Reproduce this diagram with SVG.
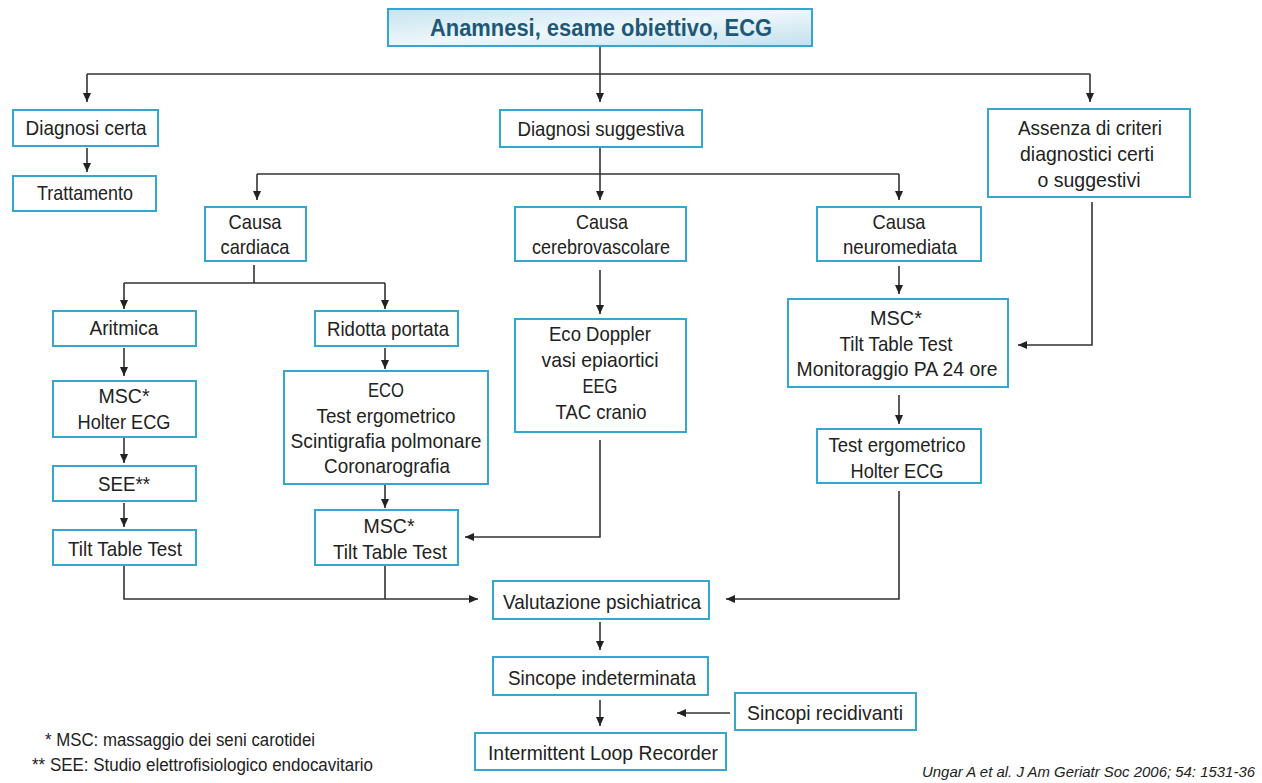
<svg xmlns="http://www.w3.org/2000/svg" width="1262" height="783" viewBox="0 0 1262 783">
<defs>
<linearGradient id="tg" x1="0" y1="0" x2="1" y2="1">
<stop offset="0" stop-color="#c7e3ef"/>
<stop offset="0.5" stop-color="#eef7fb"/>
<stop offset="1" stop-color="#c2e0ed"/>
</linearGradient>
<marker id="ah" markerWidth="10" markerHeight="10" refX="9" refY="5" orient="auto" markerUnits="userSpaceOnUse">
<path d="M0,1 L9,5 L0,9 Z" fill="#222"/>
</marker>
<style>
.b{fill:#fff;stroke:#35a6d0;stroke-width:2}
.t{font-family:"Liberation Sans",Arial,sans-serif;font-size:21px;fill:#222;text-anchor:middle}
.c{fill:none;stroke:#333;stroke-width:1.6}
.a{marker-end:url(#ah)}
.f{font-family:"Liberation Sans",Arial,sans-serif;font-size:17.5px;fill:#222}
</style>
</defs>
<rect width="1262" height="783" fill="#fff"/>
<g id="connectors">
<path class="c" d="M600,46 V74 M87,74 H1090"/>
<path class="c a" d="M87,74 V102"/>
<path class="c a" d="M600,74 V102"/>
<path class="c a" d="M1090,74 V102"/>
<path class="c a" d="M87,148 V172"/>
<path class="c" d="M600,147 V174 M257,174 H899"/>
<path class="c a" d="M257,174 V200"/>
<path class="c a" d="M600,174 V200"/>
<path class="c a" d="M899,174 V200"/>
<path class="c" d="M254,265 V283 M124,283 H385"/>
<path class="c a" d="M124,283 V309"/>
<path class="c a" d="M385,283 V309"/>
<path class="c a" d="M600,270 V314"/>
<path class="c a" d="M899,266 V294"/>
<path class="c a" d="M1092,202 V345 H1018"/>
<path class="c a" d="M124,348 V376"/>
<path class="c a" d="M124,438 V463"/>
<path class="c a" d="M124,503 V527"/>
<path class="c a" d="M385,348 V369"/>
<path class="c a" d="M385,485 V508"/>
<path class="c a" d="M600,440 V537 H465"/>
<path class="c a" d="M899,395 V424"/>
<path class="c a" d="M124,566 V599 H478"/>
<path class="c" d="M385,566 V599"/>
<path class="c a" d="M899,491 V599 H726"/>
<path class="c a" d="M600,622 V650"/>
<path class="c a" d="M600,700 V726"/>
<path class="c a" d="M730,713 H677"/>
</g>
<g id="n-title">
<rect x="388" y="9" width="424" height="37" fill="url(#tg)" stroke="#35a6d0" stroke-width="2"/>
<text x="601" y="36" class="t" style="font-weight:bold;font-size:23px;fill:#1d5878" textLength="342" lengthAdjust="spacingAndGlyphs">Anamnesi, esame obiettivo, ECG</text>
</g>
<g id="n-diagnosi-certa"><rect class="b" x="13" y="110" width="145" height="36"/><text class="t" x="86" y="135" textLength="121" lengthAdjust="spacingAndGlyphs">Diagnosi certa</text></g>
<g id="n-trattamento"><rect class="b" x="13" y="176" width="143" height="35"/><text class="t" x="85" y="200" textLength="96" lengthAdjust="spacingAndGlyphs">Trattamento</text></g>
<g id="n-diagnosi-suggestiva"><rect class="b" x="500" y="110" width="202" height="37"/><text class="t" x="601" y="136" textLength="167" lengthAdjust="spacingAndGlyphs">Diagnosi suggestiva</text></g>
<g id="n-assenza"><rect class="b" x="988" y="109" width="202" height="88"/><text class="t" x="1090" y="135" textLength="144" lengthAdjust="spacingAndGlyphs">Assenza di criteri</text><text class="t" x="1087" y="161" textLength="134" lengthAdjust="spacingAndGlyphs">diagnostici certi</text><text class="t" x="1089" y="187" textLength="103" lengthAdjust="spacingAndGlyphs">o suggestivi</text></g>
<g id="n-cardiaca"><rect class="b" x="205" y="207" width="101" height="54"/><text class="t" x="255" y="229" textLength="53" lengthAdjust="spacingAndGlyphs">Causa</text><text class="t" x="255" y="254" textLength="69" lengthAdjust="spacingAndGlyphs">cardiaca</text></g>
<g id="n-cerebro"><rect class="b" x="515" y="207" width="171" height="54"/><text class="t" x="602" y="229" textLength="52" lengthAdjust="spacingAndGlyphs">Causa</text><text class="t" x="601" y="254" textLength="138" lengthAdjust="spacingAndGlyphs">cerebrovascolare</text></g>
<g id="n-neuro"><rect class="b" x="817" y="207" width="164" height="54"/><text class="t" x="899" y="229" textLength="53" lengthAdjust="spacingAndGlyphs">Causa</text><text class="t" x="900" y="254" textLength="114" lengthAdjust="spacingAndGlyphs">neuromediata</text></g>
<g id="n-aritmica"><rect class="b" x="53" y="311" width="143" height="35"/><text class="t" x="124" y="335" textLength="69" lengthAdjust="spacingAndGlyphs">Aritmica</text></g>
<g id="n-msc-holter"><rect class="b" x="53" y="381" width="143" height="56"/><text class="t" x="124" y="403" textLength="51" lengthAdjust="spacingAndGlyphs">MSC*</text><text class="t" x="124" y="429" textLength="93" lengthAdjust="spacingAndGlyphs">Holter ECG</text></g>
<g id="n-see"><rect class="b" x="53" y="466" width="143" height="35"/><text class="t" x="124" y="491" textLength="52" lengthAdjust="spacingAndGlyphs">SEE**</text></g>
<g id="n-tilt1"><rect class="b" x="53" y="530" width="143" height="35"/><text class="t" x="125" y="556" textLength="114" lengthAdjust="spacingAndGlyphs">Tilt Table Test</text></g>
<g id="n-ridotta"><rect class="b" x="315" y="311" width="143" height="35"/><text class="t" x="388" y="336" textLength="122" lengthAdjust="spacingAndGlyphs">Ridotta portata</text></g>
<g id="n-eco"><rect class="b" x="284" y="371" width="204" height="113"/><text class="t" x="386" y="397" textLength="36" lengthAdjust="spacingAndGlyphs">ECO</text><text class="t" x="386" y="423" textLength="139" lengthAdjust="spacingAndGlyphs">Test ergometrico</text><text class="t" x="386" y="448" textLength="191" lengthAdjust="spacingAndGlyphs">Scintigrafia polmonare</text><text class="t" x="387" y="473" textLength="126" lengthAdjust="spacingAndGlyphs">Coronarografia</text></g>
<g id="n-msc-tilt"><rect class="b" x="315" y="510" width="143" height="55"/><text class="t" x="389" y="533" textLength="51" lengthAdjust="spacingAndGlyphs">MSC*</text><text class="t" x="390" y="559" textLength="114" lengthAdjust="spacingAndGlyphs">Tilt Table Test</text></g>
<g id="n-doppler"><rect class="b" x="515" y="319" width="171" height="113"/><text class="t" x="600" y="341" textLength="102" lengthAdjust="spacingAndGlyphs">Eco Doppler</text><text class="t" x="600" y="367" textLength="117" lengthAdjust="spacingAndGlyphs">vasi epiaortici</text><text class="t" x="600" y="393" textLength="35" lengthAdjust="spacingAndGlyphs">EEG</text><text class="t" x="601" y="419" textLength="91" lengthAdjust="spacingAndGlyphs">TAC cranio</text></g>
<g id="n-msc-tilt-pa"><rect class="b" x="788" y="299" width="220" height="88"/><text class="t" x="896" y="325" textLength="52" lengthAdjust="spacingAndGlyphs">MSC*</text><text class="t" x="896" y="351" textLength="113" lengthAdjust="spacingAndGlyphs">Tilt Table Test</text><text class="t" x="897" y="376" textLength="201" lengthAdjust="spacingAndGlyphs">Monitoraggio PA 24 ore</text></g>
<g id="n-test-holter"><rect class="b" x="817" y="429" width="164" height="54"/><text class="t" x="897" y="452" textLength="137" lengthAdjust="spacingAndGlyphs">Test ergometrico</text><text class="t" x="897" y="478" textLength="93" lengthAdjust="spacingAndGlyphs">Holter ECG</text></g>
<g id="n-valutazione"><rect class="b" x="493" y="581" width="216" height="38"/><text class="t" x="602" y="609" textLength="198" lengthAdjust="spacingAndGlyphs">Valutazione psichiatrica</text></g>
<g id="n-sincope"><rect class="b" x="493" y="657" width="215" height="38"/><text class="t" x="602" y="685" textLength="188" lengthAdjust="spacingAndGlyphs">Sincope indeterminata</text></g>
<g id="n-recidivanti"><rect class="b" x="735" y="693" width="181" height="37"/><text class="t" x="825" y="720" textLength="156" lengthAdjust="spacingAndGlyphs">Sincopi recidivanti</text></g>
<g id="n-ilr"><rect class="b" x="475" y="733" width="251" height="37"/><text class="t" x="603" y="760" textLength="230" lengthAdjust="spacingAndGlyphs">Intermittent Loop Recorder</text></g>
<g id="notes">
<text class="f" x="45" y="746" textLength="270" lengthAdjust="spacingAndGlyphs">* MSC: massaggio dei seni carotidei</text>
<text class="f" x="32" y="771" textLength="341" lengthAdjust="spacingAndGlyphs">** SEE: Studio elettrofisiologico endocavitario</text>
<text class="f" x="922" y="777" style="font-style:italic;font-size:15px" textLength="333" lengthAdjust="spacingAndGlyphs">Ungar A et al. J Am Geriatr Soc 2006; 54: 1531-36</text>
</g>
</svg>
